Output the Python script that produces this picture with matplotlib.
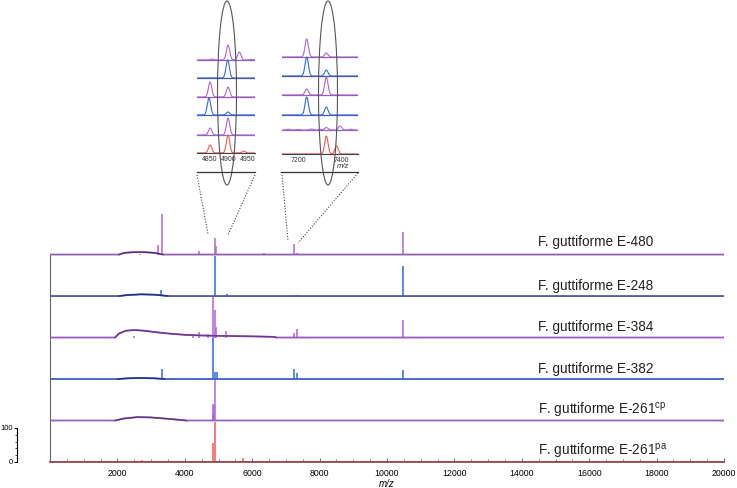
import numpy as np
import matplotlib
matplotlib.use("Agg")
from matplotlib import pyplot as plt
from matplotlib.patches import Ellipse
from matplotlib.lines import Line2D

plt.rcParams['font.family'] = ['Liberation Sans', 'DejaVu Sans']
plt.rcParams['mathtext.fontset'] = 'custom'
plt.rcParams['mathtext.rm'] = 'Liberation Sans'

# strains, top to bottom
names = ["F. guttiforme E-480", "F. guttiforme E-248", "F. guttiforme E-384",
         "F. guttiforme E-382", "F. guttiforme E-261$^{\\mathrm{cp}}$",
         "F. guttiforme E-261$^{\\mathrm{pa}}$"]
peak_cols = ["#b063d6", "#2f6ae0", "#b063d6", "#2f6ae0", "#b063d6", "#f05a5a"]
base_cols = ["#9260b0", "#4a5a9e", "#9c58c4", "#3a5fc8", "#9466c0", "#a04848"]
hump_cols = ["#5a2f7a", "#26307a", "#6a3a8a", "#26307a", "#5e3480", "#a04848"]

# main spectra: peaks (m/z, intensity) and broad baseline hump points
peaks_480 = [(2670, 3), (3215, 29), (3323, 118), (3610, 3), (4411, 9), (4898, 50),
             (4930, 25), (5242, 3), (6350, 6), (6470, 3), (7237, 32), (7330, 6),
             (9540, 3), (10470, 65)]
peaks_248 = [(3293, 18), (4898, 118), (5242, 6), (7237, 4), (7330, 2), (10470, 88)]
peaks_384 = [(2480, 5), (4250, 6), (4411, 15), (4700, 9), (4850, 120), (4898, 80),
             (4940, 30), (5222, 20), (7237, 12), (7330, 26), (10470, 53)]
peaks_382 = [(3323, 28), (3610, 3), (4300, 3), (4848, 120), (4898, 20), (4965, 20),
             (7237, 29), (7330, 17), (10470, 27)]
peaks_261cp = [(4830, 20), (4850, 50), (4880, 45), (4898, 120)]
peaks_261pa = [(2245, 4), (2720, 6), (4850, 55), (4898, 118), (5717, 12)]
main_peaks = [peaks_480, peaks_248, peaks_384, peaks_382, peaks_261cp, peaks_261pa]

hump_480 = ([2050, 2200, 2500, 2800, 3100, 3350], [0, 5, 7, 7, 5, 0])
hump_248 = ([2050, 2300, 2700, 3100, 3500], [0, 3, 5, 4, 0])
hump_384 = ([1930, 2050, 2250, 2500, 2800, 3200, 3600, 4000, 4500, 5000, 5600, 6200, 6650, 6720],
            [0, 12, 20, 22, 20, 15, 11, 8, 6, 5, 4, 3, 2, 0])
hump_382 = ([2000, 2300, 2700, 3100, 3400], [0, 2, 3, 2, 0])
hump_261cp = ([1930, 2200, 2600, 3000, 3500, 3950, 4050], [0, 6, 10, 9, 5, 1, 0])
hump_261pa = ([], [])
humps = [hump_480, hump_248, hump_384, hump_382, hump_261cp, hump_261pa]

# zoomed insets: peaks (m/z, height) per strain
ins1_peaks = [[(4855, 1), (4898, 15), (4928, 8), (4960, 0.5)],
              [(4897, 18)],
              [(4850, 15), (4898, 10)],
              [(4847, 17), (4898, 3)],
              [(4850, 7), (4898, 17)],
              [(4850, 8), (4898, 18), (4940, 2)]]
ins2_peaks = [[(7237, 18), (7330, 4)],
              [(7237, 19), (7330, 6)],
              [(7237, 6), (7330, 18)],
              [(7237, 18), (7330, 8)],
              [(7150, 0.8), (7195, 0.6), (7260, 1), (7300, 0.7), (7330, 2.5), (7395, 4), (7445, 0.8)],
              [(7330, 18), (7378, 8)]]
ins1_offsets = [93, 75, 56, 38, 18, 0]
ins2_offsets = [97, 78, 59, 39, 24, 0]

step = 122
W, H = 737, 488


def fx(px):
    return px / W


def fy(py):
    return 1 - py / H


fig = plt.figure(figsize=(7.37, 4.88), dpi=100)

# main stacked spectra
ax = fig.add_axes([fx(50), fy(462), (724 - 50) / W, (462 - 210) / H])
n = len(names)
for i in range(n):
    off = (n - 1 - i) * step
    hx, hy = humps[i]
    xs = [0] + list(hx) + [20000]
    ys = [off] + [off + v for v in hy] + [off]
    mz = [p[0] for p in main_peaks[i]]
    hh = [p[1] for p in main_peaks[i]]
    ax.vlines(mz, off, [off + v for v in hh], color=peak_cols[i], lw=1.1, zorder=2)
    ax.plot(xs, ys, color=base_cols[i], lw=1.3, zorder=3)
    if hx:
        ax.plot(hx, [off + v for v in hy], color=hump_cols[i], lw=1.0, zorder=3)
    ty = off + (38 if i == 0 else 30)
    ax.text(14480, ty, names[i], fontsize=9.8, color="#222222", va="center", ha="left")

ax.set_xlim(0, 20000)
ax.set_ylim(0, 741)
ax.spines['top'].set_visible(False)
ax.spines['right'].set_visible(False)
ax.spines['left'].set_bounds(0, (n - 1) * step)
ax.spines['left'].set_color("#666666")
ax.spines['left'].set_linewidth(0.8)
ax.spines['bottom'].set_color("#7a4444")
ax.spines['bottom'].set_linewidth(1.2)
ax.set_yticks([])
ax.set_xticks(np.arange(2000, 20001, 2000))
ax.set_xticks(np.arange(0, 20001, 500), minor=True)
ax.tick_params(axis='x', which='major', direction='in', length=3, width=0.6,
               labelsize=6.3, pad=5, color="#555555")
ax.tick_params(axis='x', which='minor', direction='in', length=2, width=0.5, color="#555555")
ax.set_xlabel("m/z", fontsize=7, style='italic', labelpad=1)

# intensity scale bar
sax = fig.add_axes([fx(17), fy(462), 0.0005, (462 - 210) / H])
sax.set_ylim(0, 741)
for s in ['top', 'right', 'bottom']:
    sax.spines[s].set_visible(False)
sax.spines['left'].set_bounds(0, 100)
sax.spines['left'].set_linewidth(0.8)
sax.set_xticks([])
sax.set_yticks([0, 100])
sax.set_yticks(np.arange(0, 101, 20), minor=True)
sax.tick_params(axis='y', which='major', length=2.5, width=0.7, labelsize=5.5, pad=0.5)
sax.tick_params(axis='y', which='minor', length=1.5, width=0.5)


def draw_inset(rect, xlim, ylim, peaks, offsets, sigma, ticks):
    iax = fig.add_axes(rect)
    xg = np.linspace(xlim[0], xlim[1], 600)
    for i in range(n):
        yv = np.zeros_like(xg)
        for c, h in peaks[i]:
            yv = yv + h * np.exp(-0.5 * ((xg - c) / sigma) ** 2)
        iax.plot(xg, offsets[i] + yv, color=peak_cols[i], lw=0.8)
        iax.plot(xlim, [offsets[i], offsets[i]], color=base_cols[i], lw=0.9)
    iax.set_xlim(*xlim)
    iax.set_ylim(*ylim)
    for s in ['top', 'right', 'left']:
        iax.spines[s].set_visible(False)
    iax.spines['bottom'].set_color("#444444")
    iax.spines['bottom'].set_linewidth(0.8)
    iax.set_yticks([])
    iax.set_xticks(ticks)
    iax.tick_params(axis='x', length=0, labelsize=5, pad=2, labelcolor="#333333")
    return iax


draw_inset([fx(197), fy(153), 58 / W, (153 - 40) / H], (4815, 4970), (0, 113),
           ins1_peaks, ins1_offsets, 4.5, [4850, 4900, 4950])
draw_inset([fx(282), fy(154), 76 / W, (154 - 37) / H], (7120, 7480), (0, 117),
           ins2_peaks, ins2_offsets, 8, [7200, 7400])
fig.text(fx(343), fy(167), "m/z", fontsize=5.5, style='italic', ha='center', va='center', color="#333333")

# ellipses, brackets and guide lines in figure pixels
for cx in [227, 328]:
    fig.patches.append(Ellipse((fx(cx), fy(93)), 19 / W, 184 / H, transform=fig.transFigure,
                               fill=False, ec="#555555", lw=0.8))
for x0, x1 in [(197, 255), (281, 358)]:
    fig.lines.append(Line2D([fx(x0), fx(x1)], [fy(172), fy(172)], transform=fig.transFigure,
                            color="#333333", lw=0.9))
guides = [((197, 175), (208, 234)), ((255, 175), (228, 235)),
          ((282, 175), (288, 241)), ((358, 173), (298, 243))]
for (xa, ya), (xb, yb) in guides:
    fig.lines.append(Line2D([fx(xa), fx(xb)], [fy(ya), fy(yb)], transform=fig.transFigure,
                            color="#444444", lw=0.8, ls=(0, (1, 1.5))))

fig.savefig("out.png", dpi=100)
